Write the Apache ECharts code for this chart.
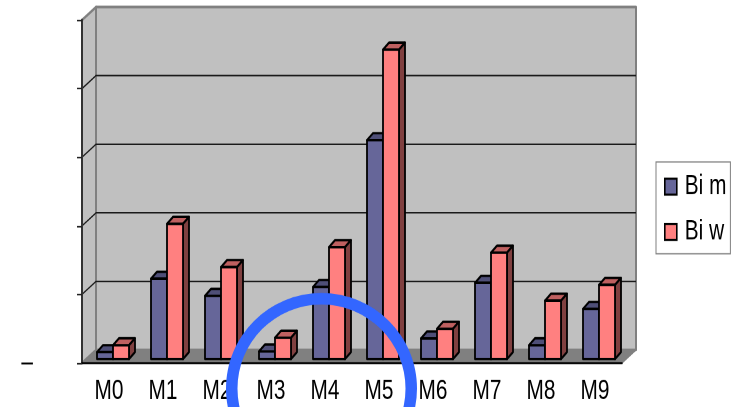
<!DOCTYPE html>
<html>
<head>
<meta charset="utf-8">
<style>
html,body{margin:0;padding:0;background:#fff;overflow:hidden;width:742px;height:407px}
#c{width:742px;height:306px;transform-origin:0 0;transform:scaleY(1.33007)}
</style>
<script src="https://cdn.jsdelivr.net/npm/echarts@6/dist/echarts.min.js"></script>
</head>
<body>
<div id="c"></div>
<script>
const categories = ['M0','M1','M2','M3','M4','M5','M6','M7','M8','M9'];
const biM = [10,117,92,11,105,319,30,111,20,73];
const biW = [20,197,134,31,163,451,44,155,85,108];
const yTicks = [0,100,200,300,400,500];
const yTickLabels = {0:'–'};
const S = 407 / 306;
const FONT = '"Liberation Sans",Arial,sans-serif';
const DX = 14, DY = -13 / S, BASE = 4 / S, BW = 16, BDX = 6, BDY = 7 / S;

function poly(points, fill, stroke, lw) {
  return {type:'polygon', shape:{points}, style:{fill, stroke, lineWidth:lw, lineJoin:'round'}};
}
function renderWalls(params, api) {
  const o = api.coord([0, 0]), top = api.coord([0, 500]);
  const x0 = params.coordSys.x, x1 = x0 + params.coordSys.width;
  const y0 = o[1], y1 = top[1];
  const ch = [
    poly([[x0+DX,y1+DY],[x1+DX,y1+DY],[x1+DX,y0+DY],[x0+DX,y0+DY]],'#c0c0c0','#808080',2),
    poly([[x0,y1],[x0+DX,y1+DY],[x0+DX,y0+DY],[x0,y0]],'#c0c0c0','#808080',2),
    poly([[x0,y0],[x0+DX,y0+DY],[x1+DX,y0+DY],[x1,y0]],'#808080','#808080',1)
  ];
  yTicks.slice(1,-1).forEach(v => {
    const y = api.coord([0, v])[1];
    ch.push({type:'polyline', shape:{points:[[x0,y],[x0+DX,y+DY],[x1+DX,y+DY]]},
      style:{fill:null, stroke:'#1a1a1a', lineWidth:1.1}});
  });
  return {type:'group', children:ch};
}
function barRenderer(off, front, topC, side) {
  return function (params, api) {
    const c = api.coord([api.value(0), api.value(1)]);
    const l = c[0] + off, r = l + BW, t = c[1] - BASE, b = api.coord([0, 0])[1] - BASE;
    return {type:'group', children:[
      poly([[l,t],[l+BDX,t-BDY],[r+BDX,t-BDY],[r,t]], topC, '#000', 1.8),
      poly([[r,t],[r+BDX,t-BDY],[r+BDX,b-BDY],[r,b]], side, '#000', 1.8),
      poly([[l,t],[r,t],[r,b],[l,b]], front, '#000', 1.8)
    ]};
  };
}
const chart = echarts.init(document.getElementById('c'), null, {renderer:'canvas', devicePixelRatio:2});
chart.setOption({
  animation:false,
  backgroundColor:'#fff',
  grid:{left:82, top:20/S, width:540, height:343/S},
  xAxis:{type:'category', data:categories, z:3,
    axisLine:{lineStyle:{color:'#000', width:1.5}},
    axisTick:{alignWithLabel:false, length:4.5, lineStyle:{color:'#000', width:1.2}},
    axisLabel:{interval:0, margin:11, fontFamily:FONT, fontSize:20.8, color:'#000'}},
  yAxis:{type:'value', min:0, max:500, interval:100, z:3,
    axisLine:{show:true, lineStyle:{color:'#333', width:2}},
    axisTick:{show:true, length:5, lineStyle:{color:'#222', width:1.2}},
    splitLine:{show:false},
    axisLabel:{margin:49, fontFamily:FONT, fontSize:20.8, color:'#000',
      formatter:v => yTickLabels[v] || ''}},
  legend:{orient:'vertical', left:656, top:162/S, width:79, height:90/S, padding:[8,4,6,8],
    itemGap:13, itemWidth:12, itemHeight:12, borderColor:'#808080', borderWidth:1,
    backgroundColor:'#fff', align:'left', icon:'rect',
    textStyle:{fontFamily:FONT, fontSize:20.8, color:'#000', padding:[0,0,0,3]},
    data:[{name:'Bi m', itemStyle:{color:'#666699', borderColor:'#000', borderWidth:1.6}},
          {name:'Bi w', itemStyle:{color:'#ff8080', borderColor:'#000', borderWidth:1.6}}]},
  series:[
    {type:'custom', name:'walls', z:1, silent:true, data:[[0,0]], renderItem:renderWalls, clip:false},
    {type:'custom', name:'Bi m', z:2, clip:false, encode:{x:0,y:1},
      itemStyle:{color:'#666699'},
      data:biM.map((v,i)=>[i,v]), renderItem:barRenderer(-12,'#666699','#4f4f78','#3f3f5f')},
    {type:'custom', name:'Bi w', z:2, clip:false, encode:{x:0,y:1},
      itemStyle:{color:'#ff8080'},
      data:biW.map((v,i)=>[i,v]), renderItem:barRenderer(4,'#ff8080','#bf6060','#804040')}
  ],
  graphic:[{type:'ring', z:100, x:321.5, y:388.5/S, scaleY:1/S, shape:{cx:0, cy:0, r:95.5, r0:84},
    style:{fill:'#3366ff'}}]
});
</script>
</body>
</html>
